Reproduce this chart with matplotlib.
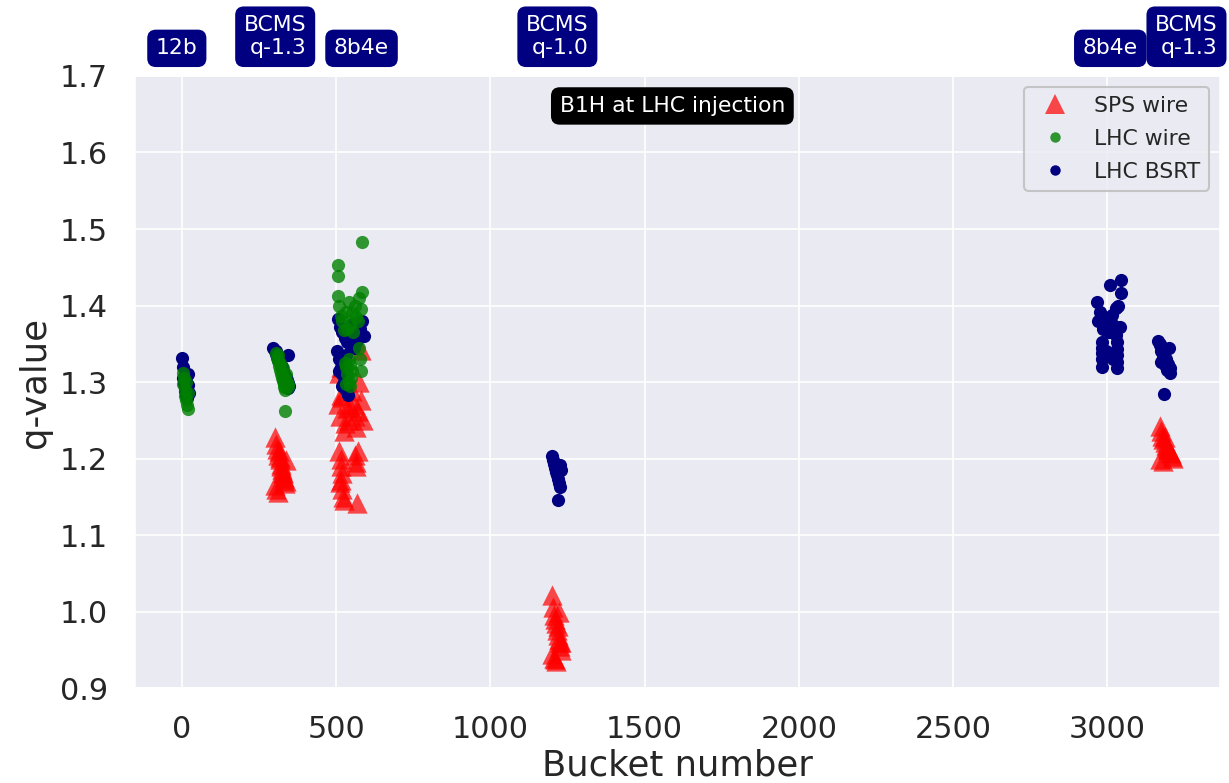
import matplotlib
matplotlib.use('Agg')
import matplotlib.pyplot as plt
from matplotlib.lines import Line2D
import seaborn as sns

sns.set_style('darkgrid')
plt.rcParams['font.family'] = ['DejaVu Sans']

# SPS wire measurements (bucket, q-value)
sps_bucket = [
    300, 304, 308, 312, 316, 320, 324, 328, 332, 336, 302, 306, 310, 314, 318, 322, 326, 330, 334, 338,
    508, 515, 575, 580,
    505, 512, 520, 528, 535, 542, 550, 558, 565, 572, 580, 588, 525, 560, 545, 515,
    510, 515, 520, 512, 518, 522, 514, 560, 565, 570, 568, 525, 563, 517,
    1200, 1203, 1206, 1209, 1212, 1215, 1218, 1221, 1224, 1227, 1230, 1201, 1205, 1210, 1214, 1219, 1223, 1228,
    3170, 3174, 3178, 3182, 3186, 3190, 3194, 3198, 3202, 3206, 3210, 3214, 3172, 3180, 3188, 3196,
]
sps_q = [
    1.228, 1.219, 1.212, 1.205, 1.199, 1.193, 1.186, 1.181, 1.176, 1.171, 1.166, 1.160, 1.156, 1.210,
    1.202, 1.190, 1.183, 1.174, 1.168, 1.198,
    1.312, 1.320, 1.300, 1.342,
    1.272, 1.256, 1.281, 1.246, 1.266, 1.251, 1.289, 1.271, 1.241, 1.262, 1.276, 1.250, 1.236, 1.256,
    1.268, 1.283,
    1.210, 1.190, 1.181, 1.170, 1.160, 1.150, 1.200, 1.205, 1.190, 1.210, 1.142, 1.146, 1.196, 1.172,
    1.022, 1.006, 0.996, 0.990, 0.985, 0.976, 0.970, 0.964, 0.960, 0.955, 0.950, 0.945, 0.940, 0.938,
    0.935, 0.981, 1.000, 0.961,
    1.243, 1.236, 1.230, 1.226, 1.222, 1.218, 1.215, 1.212, 1.209, 1.207, 1.204, 1.201, 1.199, 1.197,
    1.228, 1.213,
]

# LHC wire measurements
lhcw_bucket = [
    2, 4, 6, 8, 10, 12, 14, 16, 18, 20,
    305, 308, 311, 314, 317, 320, 323, 326, 329, 332, 335, 338, 341, 344, 310, 318, 326, 334, 342, 335,
    584, 506, 506, 506, 585, 510, 540, 560, 575, 550, 565, 580, 520, 545, 535, 570, 555, 525, 530, 515,
    540, 530, 535, 540, 545, 548, 552, 528, 575, 578, 580, 533, 543,
]
lhcw_q = [
    1.312, 1.297, 1.305, 1.290, 1.282, 1.300, 1.276, 1.270, 1.286, 1.265,
    1.338, 1.332, 1.327, 1.321, 1.316, 1.311, 1.306, 1.302, 1.298, 1.294, 1.290, 1.310, 1.300, 1.293,
    1.335, 1.325, 1.318, 1.305, 1.297, 1.262,
    1.483, 1.453, 1.438, 1.412, 1.418, 1.400, 1.405, 1.400, 1.410, 1.390, 1.385, 1.395, 1.380, 1.375,
    1.370, 1.380, 1.365, 1.368, 1.392, 1.386,
    1.330, 1.320, 1.310, 1.300, 1.295, 1.305, 1.315, 1.325, 1.345, 1.330, 1.315, 1.298, 1.322,
]

# LHC BSRT measurements
bsrt_bucket = [
    0, 2, 4, 6, 8, 10, 12, 14, 16, 18, 20, 22,
    296, 300, 304, 308, 312, 316, 320, 324, 328, 332, 336, 340, 344, 348, 342, 345, 305, 315, 325, 335,
    505, 512, 520, 528, 536, 544, 552, 560, 568, 576, 584, 590, 548, 556, 564, 572,
    502, 508, 514, 520, 526, 532, 538, 510, 518, 530,
    1200, 1203, 1206, 1209, 1212, 1215, 1218, 1221, 1224, 1227, 1230, 1218,
    3046, 3010, 3045, 2968, 3028, 2975, 2990, 3000, 3015, 3035, 3020, 2985, 3005, 3040, 2970, 3030,
    2984, 2984, 2984, 2984, 2984, 3033, 3033, 3033, 3033, 3033, 2995, 3020,
    3166, 3172, 3178, 3184, 3190, 3196, 3202, 3205, 3170, 3176, 3182, 3188, 3194, 3200, 3175, 3185,
]
bsrt_q = [
    1.331, 1.320, 1.305, 1.298, 1.292, 1.289, 1.301, 1.283, 1.279, 1.296, 1.310, 1.286,
    1.345, 1.341, 1.337, 1.333, 1.329, 1.326, 1.322, 1.318, 1.315, 1.311, 1.307, 1.303, 1.299, 1.295,
    1.292, 1.335, 1.340, 1.330, 1.320, 1.305,
    1.383, 1.372, 1.365, 1.358, 1.352, 1.362, 1.376, 1.368, 1.355, 1.370, 1.380, 1.360, 1.347, 1.344,
    1.352, 1.358,
    1.340, 1.330, 1.320, 1.310, 1.300, 1.290, 1.283, 1.315, 1.295, 1.335,
    1.204, 1.198, 1.193, 1.188, 1.183, 1.178, 1.173, 1.168, 1.163, 1.192, 1.185, 1.146,
    1.434, 1.427, 1.416, 1.405, 1.397, 1.392, 1.385, 1.380, 1.388, 1.400, 1.375, 1.370, 1.365, 1.372,
    1.380, 1.362,
    1.353, 1.345, 1.338, 1.330, 1.320, 1.352, 1.343, 1.335, 1.326, 1.318, 1.340, 1.330,
    1.354, 1.348, 1.342, 1.336, 1.330, 1.324, 1.318, 1.312, 1.350, 1.340, 1.332, 1.322, 1.316, 1.345,
    1.326, 1.285,
]

# filling scheme labels above the plot
scheme_labels = ['12b', 'BCMS\nq-1.3', '8b4e', 'BCMS\nq-1.0', '8b4e', 'BCMS\nq-1.3']
label_x = [-17, 302, 582, 1217, 3010, 3257]

fig = plt.figure(figsize=(1229 / 150, 783 / 150), dpi=150)
ax = fig.add_axes([0.110, 0.121, 0.883, 0.782])

ax.scatter(sps_bucket, sps_q, marker='^', s=95, color='red', alpha=0.7, linewidths=0)
ax.scatter(bsrt_bucket, bsrt_q, marker='o', s=40, color='navy', linewidths=0)
ax.scatter(lhcw_bucket, lhcw_q, marker='o', s=40, color='green', alpha=0.8, linewidths=0)

ax.set_xlim(-152, 3367)
ax.set_ylim(0.9, 1.7)
ax.set_xticks([0, 500, 1000, 1500, 2000, 2500, 3000])
ax.set_yticks([0.9, 1.0, 1.1, 1.2, 1.3, 1.4, 1.5, 1.6, 1.7])
ax.tick_params(labelsize=14.5, length=0, pad=13, labelcolor='#262626')
ax.set_xlabel('Bucket number', fontsize=17, color='#262626', labelpad=2)
ax.set_ylabel('q-value', fontsize=17, color='#262626')

# legend proxies so the dots come out smaller than the triangle
h_sps = Line2D([], [], ls='none', marker='^', ms=10, color='red', alpha=0.7, mew=0)
h_lhcw = Line2D([], [], ls='none', marker='o', ms=5, color='green', alpha=0.8, mew=0)
h_bsrt = Line2D([], [], ls='none', marker='o', ms=5, color='navy', mew=0)
leg = ax.legend([h_sps, h_lhcw, h_bsrt], ['SPS wire', 'LHC wire', 'LHC BSRT'],
                loc='upper right', fontsize=10.5, frameon=True, labelspacing=0.6)
leg.get_frame().set_edgecolor('#bbbbbb')

ax.text(0.495, 0.951, 'B1H at LHC injection', transform=ax.transAxes, ha='center', va='center',
        fontsize=10.5, color='white',
        bbox=dict(boxstyle='round,pad=0.35', facecolor='black', edgecolor='black'))

for lab, xv in zip(scheme_labels, label_x):
    ax.text(xv, 1.7 + 0.023, lab, ha='center', va='bottom', multialignment='right',
            fontsize=10.5, color='white', clip_on=False,
            bbox=dict(boxstyle='round,pad=0.35', facecolor='navy', edgecolor='navy'))

fig.savefig('out.png', dpi=150)
